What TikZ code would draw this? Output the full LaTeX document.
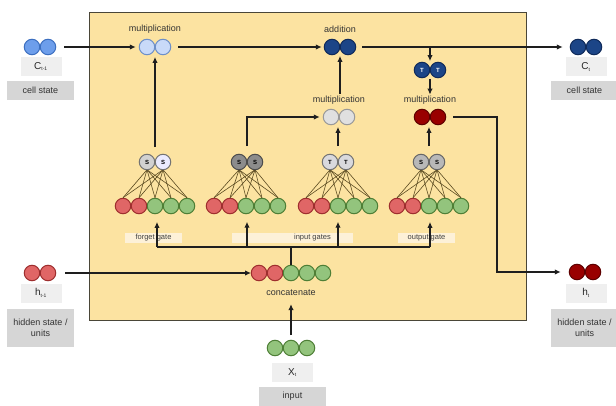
\documentclass[tikz,border=0pt]{standalone}
\usepackage{fontspec}
\setmainfont{Liberation Sans}
\usetikzlibrary{arrows.meta,calc}
\definecolor{bgY}{HTML}{FCE3A1}
\definecolor{frameC}{HTML}{4A4638}
\definecolor{redF}{HTML}{E06666}
\definecolor{redB}{HTML}{9E2E2E}
\definecolor{grnF}{HTML}{93C47D}
\definecolor{grnB}{HTML}{4E7F36}
\definecolor{lbF}{HTML}{6D9EEB}
\definecolor{lbB}{HTML}{3C6FC0}
\definecolor{plF}{HTML}{C9DAF8}
\definecolor{plB}{HTML}{6D8FC8}
\definecolor{dbF}{HTML}{1C4587}
\definecolor{dbB}{HTML}{0F2A5A}
\definecolor{gyF}{HTML}{E0E0E0}
\definecolor{gyB}{HTML}{999999}
\definecolor{drF}{HTML}{990000}
\definecolor{drB}{HTML}{5E0000}
\definecolor{fanC}{HTML}{5A4A20}
\definecolor{lblL}{HTML}{EFEFEF}
\definecolor{lblD}{HTML}{D6D6D6}
\definecolor{gateL}{HTML}{FDF1D8}
\definecolor{arrC}{HTML}{1E1E1E}
\newcommand\mkpair[5]{% name, x, y, style1, style2
  \node[pairbox] (#1) at (#2,#3) {};
  \node[#4] (#11) at ($(#1)+(-8,0)$) {};
  \node[#5] (#12) at ($(#1)+(8,0)$) {};}
\newcommand\mkpairtxt[6]{% name, x, y, style1, style2, letter
  \node[pairbox] (#1) at (#2,#3) {};
  \node[#4] (#11) at ($(#1)+(-8,0)$) {\letterfont #6};
  \node[#5] (#12) at ($(#1)+(8,0)$) {\letterfont #6};}
\newcommand\letterfont{\fontsize{6}{6}\selectfont\bfseries}
\newcommand\mkrow[3]{% name, x, y
  \node[rowbox] (#1) at (#2,#3) {};
  \node[cred] (#1a) at ($(#1)+(-32,0)$) {};
  \node[cred] (#1b) at ($(#1)+(-16,0)$) {};
  \node[cgrn] (#1c) at ($(#1)+(0,0)$) {};
  \node[cgrn] (#1d) at ($(#1)+(16,0)$) {};
  \node[cgrn] (#1e) at ($(#1)+(32,0)$) {};}
\begin{document}
\begin{tikzpicture}[x=1pt,y=-1pt,
  cnode/.style={circle,minimum size=15.5pt,inner sep=0pt,line width=1pt,draw},
  cred/.style={cnode,fill=redF,draw=redB},
  cgrn/.style={cnode,fill=grnF,draw=grnB},
  clb/.style={cnode,fill=lbF,draw=lbB},
  cpl/.style={cnode,fill=plF,draw=plB},
  cdb/.style={cnode,fill=dbF,draw=dbB,text=white},
  cgy/.style={cnode,fill=gyF,draw=gyB},
  cdr/.style={cnode,fill=drF,draw=drB},
  pairbox/.style={minimum width=31.5pt,minimum height=15.5pt,inner sep=0pt},
  rowbox/.style={minimum width=79.5pt,minimum height=15.5pt,inner sep=0pt},
  fan/.style={draw=fanC,line width=0.6pt},
  arr/.style={draw=arrC,line width=1.1pt,-{Latex[length=6pt,width=5.5pt]}},
  ln/.style={draw=arrC,line width=1.1pt},
  lbl/.style={font=\fontsize{9}{10}\selectfont,text=black!80,inner sep=1pt},
  glbl/.style={fill=gateL,font=\fontsize{7.5}{8}\selectfont,text=black!75,minimum height=10pt,inner sep=0pt},
  boxL/.style={fill=lblL,minimum width=41pt,minimum height=19pt,inner sep=0pt,font=\fontsize{10}{12}\selectfont,text=black!85},
  boxD/.style={fill=lblD,minimum width=67pt,inner sep=0pt,font=\fontsize{9}{10.5}\selectfont,text=black!80,align=center}
  ]
\useasboundingbox (0,0) rectangle (616,406);
\fill[white] (0,0) rectangle (616,406);
% main cell
\node[draw=frameC,fill=bgY,line width=1.3pt,minimum width=437pt,minimum height=308pt,anchor=north west,inner sep=0pt] (cell) at (89,12) {};

% left cell state
\mkpair{cp}{40}{47}{clb}{clb}
\node[boxL] (cplbl) at (41,66.5) {C\textsubscript{\fontsize{5}{6}\selectfont t-1}};
\node[boxD,minimum height=19pt] (cpbox) at (40.5,90.5) {cell state};

% right cell state
\mkpair{ctp}{586}{47}{cdb}{cdb}
\node[boxL] (ctlbl) at (586,67) {C\textsubscript{\fontsize{5}{6}\selectfont t}};
\node[boxD,minimum height=19pt] (ctbox) at (584.5,90.5) {cell state};

% left hidden state
\mkpair{hp}{40}{273}{cred}{cred}
\node[boxL] (hplbl) at (41,293) {h\textsubscript{\fontsize{5}{6}\selectfont t-1}};
\node[boxD,minimum height=38pt] (hpbox) at (40.5,328) {hidden state /\\units};

% right hidden state
\mkpair{htp}{585}{272}{cdr}{cdr}
\node[boxL] (htlbl) at (586,293) {h\textsubscript{\fontsize{5}{6}\selectfont t}};
\node[boxD,minimum height=38pt] (htbox) at (584.5,328) {hidden state /\\units};

% input
\node[minimum width=47.5pt,minimum height=15.5pt,inner sep=0pt] (xt) at (291,348) {};
\node[cgrn] (xta) at ($(xt)+(-16,0)$) {};
\node[cgrn] (xtb) at (xt) {};
\node[cgrn] (xtc) at ($(xt)+(16,0)$) {};
\node[boxL] (xtlbl) at (292.5,372.5) {X\textsubscript{\fontsize{5}{6}\selectfont t}};
\node[boxD,minimum height=19pt] (xtbox) at (292.5,396.5) {input};

% top operations
\mkpair{mf}{155}{47}{cpl}{cpl}
\node[lbl] (mflbl) at (155,29) {multiplication};
\mkpair{ad}{340}{47}{cdb}{cdb}
\node[lbl] (adlbl) at (340,29) {addition};
\mkpairtxt{th}{430}{70}{cdb}{cdb}{T}
\mkpair{mm}{339}{117}{cgy}{cgy}
\node[lbl] (mmlbl) at (339,100) {multiplication};
\mkpair{mo}{430}{117}{cdr}{cdr}
\node[lbl] (molbl) at (430,100) {multiplication};

% gate rows
\mkrow{fr}{155}{206}
\mkrow{ir}{246}{206}
\mkrow{cr}{338}{206}
\mkrow{or}{429}{206}
% fan lines (drawn to pair positions), then the gate units on top
\node[pairbox] (fs) at (155,162) {};
\node[pairbox] (is) at (247,162) {};
\node[pairbox] (cs) at (338,162) {};
\node[pairbox] (os) at (429,162) {};
\foreach \g in {fs,is,cs,os}{
  \coordinate (\g1) at ($(\g)+(-8,7.75)$);
  \coordinate (\g2) at ($(\g)+(8,7.75)$);}
\foreach \r in {a,b,c,d,e}{
  \draw[fan] (fr\r.north) -- (fs1); \draw[fan] (fr\r.north) -- (fs2);
  \draw[fan] (ir\r.north) -- (is1); \draw[fan] (ir\r.north) -- (is2);
  \draw[fan] (cr\r.north) -- (cs1); \draw[fan] (cr\r.north) -- (cs2);
  \draw[fan] (or\r.north) -- (os1); \draw[fan] (or\r.north) -- (os2);}
\mkpairtxt{fs}{155}{162}{cnode,fill=black!18,draw=black!55}{cnode,fill=blue!8,draw=black!55}{S}
\mkpairtxt{is}{247}{162}{cnode,fill=black!45,draw=black!70}{cnode,fill=black!45,draw=black!70}{S}
\mkpairtxt{cs}{338}{162}{cnode,fill=blue!10!black!15,draw=black!55}{cnode,fill=blue!10!black!15,draw=black!55}{T}
\mkpairtxt{os}{429}{162}{cnode,fill=black!28,draw=black!60}{cnode,fill=black!28,draw=black!60}{S}

% gate labels
\node[glbl,minimum width=57pt] (fglbl) at (153.5,238) {forget gate};
\node[glbl,minimum width=121pt] (iglbl) at (292.5,238) {\hspace*{40pt}input gates};
\node[glbl,minimum width=57pt] (oglbl) at (426.5,238) {output gate};

% concatenate
\mkrow{cat}{291}{273}
\node[lbl] (catlbl) at (291,293) {concatenate};

% connectors
\draw[arr,shorten <=8pt,shorten >=3pt] (cp2) -- (mf1);
\draw[arr,shorten <=7pt,shorten >=2pt] (fs.north) -- (mf.south);
\draw[arr,shorten <=7pt,shorten >=2pt] (mf2) -- (ad1);
\draw[arr,shorten <=6pt,shorten >=7pt] (ad2) -- (ctp1);
\draw[arr,shorten >=1pt] (th.north |- ad.east) -- (th.north);
\draw[arr,shorten <=1pt] (th.south) -- (molbl.north);
\draw[arr,shorten <=1pt,shorten >=1pt] (mmlbl.north -| ad.south) -- (ad.south);
\draw[arr,shorten <=8pt,shorten >=2pt] (cs.north) -- (cs.north |- mm.south);
\draw[arr,shorten <=8pt,shorten >=2pt] (os.north) -- (os.north |- mo.south);
\draw[arr,shorten <=8pt,shorten >=3pt] (is.north) |- (mm1.west);
\coordinate (hturn) at (497,272);
\draw[arr,shorten <=7pt,shorten >=8pt] (mo2) -| (hturn) -- (htp1);
\draw[arr,shorten <=9pt,shorten >=8pt] (hp2) -- (hp2 -| cata);
\draw[arr,shorten <=5pt,shorten >=7pt] (xt.north) -- (catlbl.south);
\coordinate (busL) at (157,247);
\coordinate (busR) at (430,247);
\draw[ln] (cat.north) -- (cat.north |- busL);
\draw[ln] (busL) -- (busR);
\draw[arr,shorten >=8pt] (busL) -- (busL |- fr.south);
\draw[arr,shorten >=8pt] (247,247) -- (247,213.75);
\draw[arr,shorten >=8pt] (338,247) -- (338,213.75);
\draw[arr,shorten >=8pt] (busR) -- (busR |- or.south);
\end{tikzpicture}
\end{document}
